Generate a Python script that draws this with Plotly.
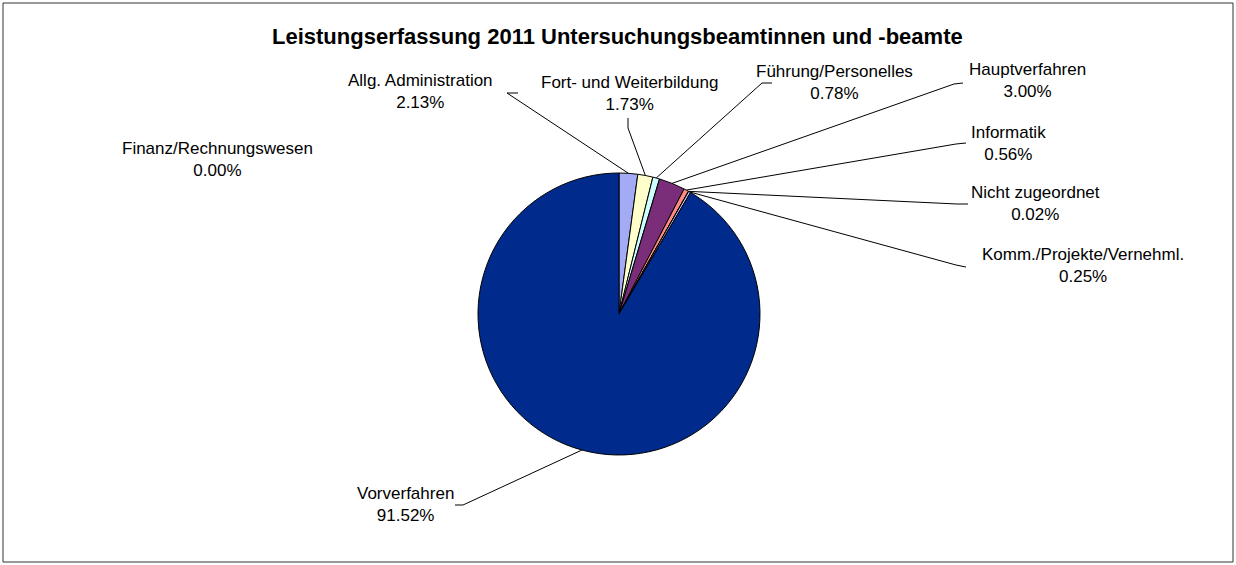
import math
import plotly.graph_objects as go

W, H = 1236, 565

# ---- data ----
categories = ["Finanz/Rechnungswesen", "Allg. Administration", "Fort- und Weiterbildung",
              "Führung/Personelles", "Hauptverfahren", "Informatik",
              "Nicht zugeordnet", "Komm./Projekte/Vernehml.", "Vorverfahren"]
percent = [0.00, 2.13, 1.73, 0.78, 3.00, 0.56, 0.02, 0.25, 91.52]
colors = ["#993366", "#A3ABF5", "#FFFFCC", "#CCFFFF", "#7A2D78",
          "#FF8A80", "#0066CC", "#C8C8F8", "#002A8C"]

# ---- layout (pixel positions) ----
cx, cy, R = 619, 314, 141
# label centre x, label centre y (of two-line block), leader-line outer points
label_pos = {
    "Finanz/Rechnungswesen": (218, 159, None),
    "Allg. Administration": (420, 92, [(518, 93), (507, 93)]),
    "Fort- und Weiterbildung": (629, 94, [(628, 118), (628, 128)]),
    "Führung/Personelles": (834, 82, [(772, 83), (762, 83)]),
    "Hauptverfahren": (1027, 81, [(963, 83), (954, 84)]),
    "Informatik": (1008, 143, [(966, 143), (956, 144)]),
    "Nicht zugeordnet": (1035, 203, [(968, 204), (957, 204)]),
    "Komm./Projekte/Vernehml.": (1083, 265, [(966, 267), (956, 265)]),
    "Vorverfahren": (405, 505, [(455, 505), (463, 505)]),
}

def px(x):
    return x / W

def py(y):
    return 1 - y / H

fig = go.Figure()
fig.add_trace(go.Pie(
    labels=categories, values=percent, sort=False, direction="clockwise", rotation=0,
    marker=dict(colors=colors, line=dict(color="#000000", width=1)),
    textinfo="none", hoverinfo="label+percent", showlegend=False,
    domain=dict(x=[px(cx - R), px(cx + R)], y=[py(cy + R), py(cy - R)]),
))

shapes = [dict(type="rect", xref="paper", yref="paper", x0=px(3), x1=px(1233), y0=py(562), y1=py(3),
               line=dict(color="#333333", width=1))]
annotations = []
total = sum(percent)
cum = 0.0
for name, val in zip(categories, percent):
    mid = (cum + val / 2) / total * 2 * math.pi
    cum += val
    lx, ly, pts = label_pos[name]
    annotations.append(dict(
        xref="paper", yref="paper", x=px(lx), y=py(ly), xanchor="center", yanchor="middle",
        text=f"{name}<br>{val:.2f}%", showarrow=False, align="center",
        font=dict(family="Liberation Sans, Arial", size=17, color="#000000"),
    ))
    if pts:
        ex = cx + R * math.sin(mid)
        ey = cy - R * math.cos(mid)
        path = f"M {px(pts[0][0])} {py(pts[0][1])} L {px(pts[1][0])} {py(pts[1][1])} L {px(ex)} {py(ey)}"
        shapes.append(dict(type="path", xref="paper", yref="paper", path=path,
                           line=dict(color="#000000", width=1)))

annotations.append(dict(
    xref="paper", yref="paper", x=px(617), y=py(36), xanchor="center", yanchor="middle",
    text="<b>Leistungserfassung 2011 Untersuchungsbeamtinnen und -beamte</b>", showarrow=False,
    font=dict(family="Liberation Sans, Arial", size=22, color="#000000"),
))

fig.update_layout(
    width=W, height=H, margin=dict(l=0, r=0, t=0, b=0),
    paper_bgcolor="white", plot_bgcolor="white",
    shapes=shapes, annotations=annotations,
)
fig.write_html("out.html")
